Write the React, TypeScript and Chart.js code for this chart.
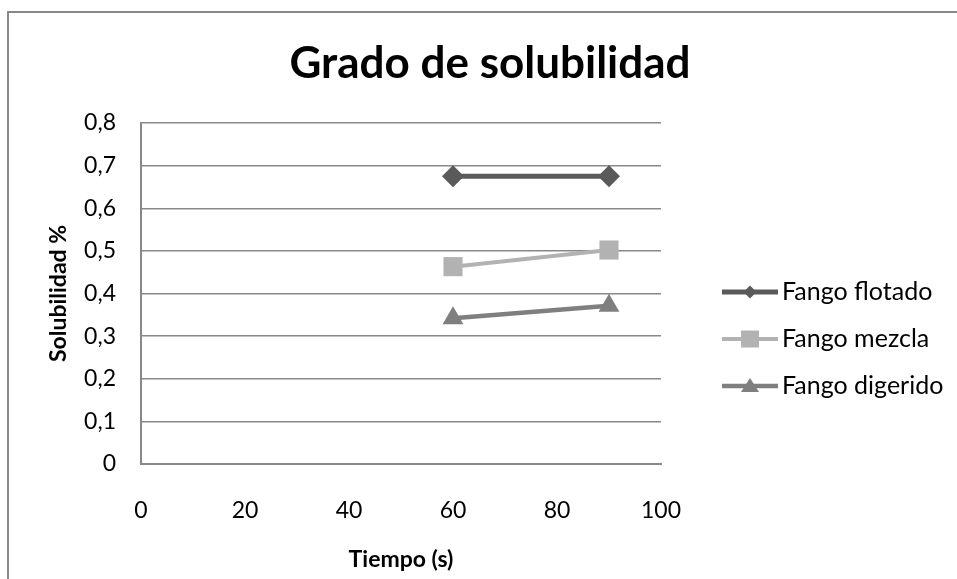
import React, { useEffect, useRef } from 'react';
import { Chart, registerables } from 'chart.js';

Chart.register(...registerables);

const chartTitle = 'Grado de solubilidad';
const xAxisTitle = 'Tiempo (s)';
const yAxisTitle = 'Solubilidad %';

const seriesNames = ['Fango flotado', 'Fango mezcla', 'Fango digerido'];
const times = [60, 90];
const fangoFlotado = [0.675, 0.675];
const fangoMezcla = [0.463, 0.502];
const fangoDigerido = [0.342, 0.371];

const xTickValues = [0, 20, 40, 60, 80, 100];
const xTickLabels = ['0', '20', '40', '60', '80', '100'];
const yTickValues = [0, 0.1, 0.2, 0.3, 0.4, 0.5, 0.6, 0.7, 0.8];
const yTickLabels = ['0', '0,1', '0,2', '0,3', '0,4', '0,5', '0,6', '0,7', '0,8'];

const FONT = "Lato, 'Open Sans', sans-serif";
const GRID = '#888888';
const colors = ['#5a5a5a', '#b2b2b2', '#7f7f7f'];
const pointStyles = ['rectRot', 'rect', 'triangle'];
const pointRadii = [11, 13.5, 12];
const lineWidths = [5, 4, 4.5];

const decorPlugin = {
  id: 'decor',
  afterDraw(chart: any) {
    const ctx = chart.ctx;
    ctx.save();
    // outer frame
    ctx.strokeStyle = GRID;
    ctx.lineWidth = 2;
    ctx.strokeRect(8, 12, 1000, 700);
    // title
    ctx.fillStyle = '#000';
    ctx.font = `bold 44px ${FONT}`;
    ctx.textAlign = 'center';
    ctx.textBaseline = 'middle';
    ctx.fillText(chartTitle, 490, 64);
    // legend
    const rows = [292, 339, 386];
    chart.data.datasets.forEach((ds: any, i: number) => {
      const y = rows[i];
      ctx.strokeStyle = ds.borderColor;
      ctx.lineWidth = ds.borderWidth;
      ctx.beginPath();
      ctx.moveTo(722, y);
      ctx.lineTo(778, y);
      ctx.stroke();
      ctx.fillStyle = ds.backgroundColor;
      const cx = 750;
      ctx.beginPath();
      if (i === 0) {
        ctx.moveTo(cx, y - 6.5);
        ctx.lineTo(cx + 6.5, y);
        ctx.lineTo(cx, y + 6.5);
        ctx.lineTo(cx - 6.5, y);
      } else if (i === 1) {
        ctx.rect(cx - 9, y - 8.5, 18, 17);
      } else {
        ctx.moveTo(cx, y - 8);
        ctx.lineTo(cx + 9, y + 6);
        ctx.lineTo(cx - 9, y + 6);
      }
      ctx.closePath();
      ctx.fill();
      ctx.fillStyle = '#000';
      ctx.font = `25px ${FONT}`;
      ctx.textAlign = 'left';
      ctx.textBaseline = 'middle';
      ctx.fillText(ds.label, 782, y);
    });
    ctx.restore();
  },
};

export default function App() {
  const ref = useRef<HTMLCanvasElement>(null);
  useEffect(() => {
    if (!ref.current) return;
    const seriesData = [fangoFlotado, fangoMezcla, fangoDigerido];
    const chart = new Chart(ref.current, {
      type: 'line',
      data: {
        datasets: seriesNames.map((name, i) => ({
          label: name,
          data: times.map((t, j) => ({ x: t, y: seriesData[i][j] })),
          borderColor: colors[i],
          backgroundColor: colors[i],
          borderWidth: lineWidths[i],
          pointStyle: pointStyles[i] as any,
          pointRadius: pointRadii[i],
          pointBorderWidth: 0,
          pointBackgroundColor: colors[i],
          tension: 0,
        })),
      },
      options: {
        responsive: false,
        animation: false,
        layout: { padding: { top: 123, right: 296, bottom: 0, left: 0 } },
        plugins: {
          legend: { display: false },
          title: { display: false },
          tooltip: { enabled: false },
        },
        scales: {
          x: {
            type: 'linear',
            min: 0,
            max: 100,
            afterBuildTicks: (s: any) => {
              s.ticks = xTickValues.map((v) => ({ value: v }));
            },
            afterFit: (s: any) => {
              s.height = 115;
            },
            grid: { display: false, drawTicks: false },
            border: { display: true, color: GRID, width: 2 },
            ticks: {
              padding: 33,
              color: '#000',
              font: { family: FONT, size: 23, lineHeight: 1.2 },
              maxRotation: 0,
              callback: (v: any, i: number) => xTickLabels[i],
            },
            title: {
              display: true,
              text: xAxisTitle,
              color: '#000',
              font: { family: FONT, size: 23, weight: 'bold', lineHeight: 1.2 },
              padding: { top: 0, bottom: 6 },
            },
          },
          y: {
            type: 'linear',
            min: 0,
            max: 0.8,
            afterBuildTicks: (s: any) => {
              s.ticks = yTickValues.map((v) => ({ value: v }));
            },
            afterFit: (s: any) => {
              s.width = 141;
            },
            grid: { color: GRID, lineWidth: 1.5, drawTicks: false },
            border: { display: true, color: GRID, width: 2 },
            ticks: {
              padding: 25,
              color: '#000',
              font: { family: FONT, size: 23, lineHeight: 1.2 },
              callback: (v: any, i: number) => yTickLabels[i],
            },
            title: {
              display: true,
              text: yAxisTitle,
              color: '#000',
              font: { family: FONT, size: 23, weight: 'bold', lineHeight: 1.2 },
              padding: { top: 45, bottom: 0 },
            },
          },
        },
      },
      plugins: [decorPlugin],
    });
    (document as any).fonts?.load?.(`bold 44px Lato`).then(() => chart.update()).catch(() => {});
    return () => chart.destroy();
  }, []);
  return (
    <div style={{ position: 'fixed', left: 0, top: 0, width: 957, height: 579, background: '#fff' }}>
      <canvas ref={ref} width={957} height={579} style={{ display: 'block' }} />
    </div>
  );
}
